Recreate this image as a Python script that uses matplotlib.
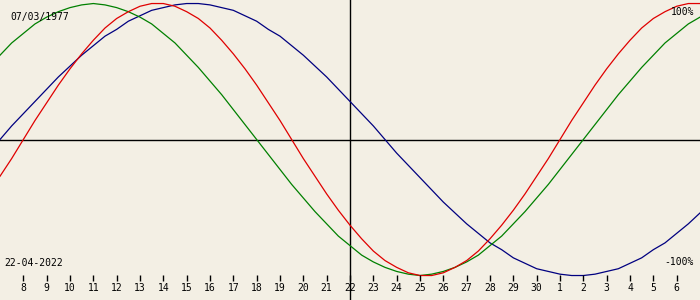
import matplotlib
matplotlib.use("Agg")
import matplotlib.pyplot as plt
import numpy as np

# days shown: 7 Apr .. 7 May 2022, read every half day (61 points)
# chart date 22 Apr sits at day 15
days = np.arange(61) / 2
day_labels = ['8', '9', '10', '11', '12', '13', '14', '15', '16', '17', '18', '19',
              '20', '21', '22', '23', '24', '25', '26', '27', '28', '29', '30',
              '1', '2', '3', '4', '5', '6']
tick_days = np.arange(1, 30)
today = 15

# values in percent
physical = [-27, -14, 0, 14, 27, 40, 52, 63, 73, 82, 89, 94, 98, 100, 100, 98,
            94, 89, 82, 73, 63, 52, 40, 27, 14, 0, -14, -27, -40, -52, -63, -73,
            -82, -89, -94, -98, -100, -100, -98, -94, -89, -82, -73, -63, -52, -40,
            -27, -14, 0, 14, 27, 40, 52, 63, 73, 82, 89, 94, 98, 100, 100]
emotional = [62, 71, 78, 85, 90, 94, 97, 99, 100, 99, 97, 94, 90, 85, 78, 71,
             62, 53, 43, 33, 22, 11, 0, -11, -22, -33, -43, -53, -62, -71, -78, -85,
             -90, -94, -97, -99, -100, -99, -97, -94, -90, -85, -78, -71, -62, -53,
             -43, -33, -22, -11, 0, 11, 22, 33, 43, 53, 62, 71, 78, 85, 90]
intellectual = [0, 10, 19, 28, 37, 46, 54, 62, 69, 76, 81, 87, 91, 95, 97, 99,
                100, 100, 99, 97, 95, 91, 87, 81, 76, 69, 62, 54, 46, 37, 28, 19,
                10, 0, -10, -19, -28, -37, -46, -54, -62, -69, -76, -81, -87, -91,
                -95, -97, -99, -100, -100, -99, -97, -95, -91, -87, -81, -76, -69,
                -62, -54]

birth = '07/03/1977'
date = '22-04-2022'

bg = '#f3efe4'
fig = plt.figure(figsize=(7, 3), dpi=100, facecolor=bg)
ax = fig.add_axes([0, 0, 1, 1], facecolor=bg)
ax.set_xlim(0, 30)
ax.set_ylim(-118, 102.6)
ax.axis('off')

ax.axhline(0, color='black', lw=1)
ax.axvline(today, color='black', lw=1)

ax.plot(days, intellectual, color='#000080', lw=0.9)
ax.plot(days, emotional, color='#008000', lw=0.9)
ax.plot(days, physical, color='#e00000', lw=0.9)

trans = ax.get_xaxis_transform()
ax.vlines(tick_days, 1 - 281 / 300, 1 - 275 / 300, color='black', lw=1, transform=trans)
for d, lab in zip(tick_days, day_labels):
    ax.text(d, 1 - 288 / 300, lab, transform=trans, ha='center', va='center',
            fontsize=7, family='DejaVu Sans Mono')

fig.text(10 / 700, 1 - 17 / 300, birth, ha='left', va='center', fontsize=7,
         family='DejaVu Sans Mono')
fig.text(4 / 700, 1 - 263 / 300, date, ha='left', va='center', fontsize=7,
         family='DejaVu Sans Mono')
fig.text(694 / 700, 1 - 12 / 300, '100%', ha='right', va='center', fontsize=7,
         family='DejaVu Sans Mono')
fig.text(694 / 700, 1 - 262 / 300, '-100%', ha='right', va='center', fontsize=7,
         family='DejaVu Sans Mono')

fig.savefig('out.png', dpi=100, facecolor=bg)
